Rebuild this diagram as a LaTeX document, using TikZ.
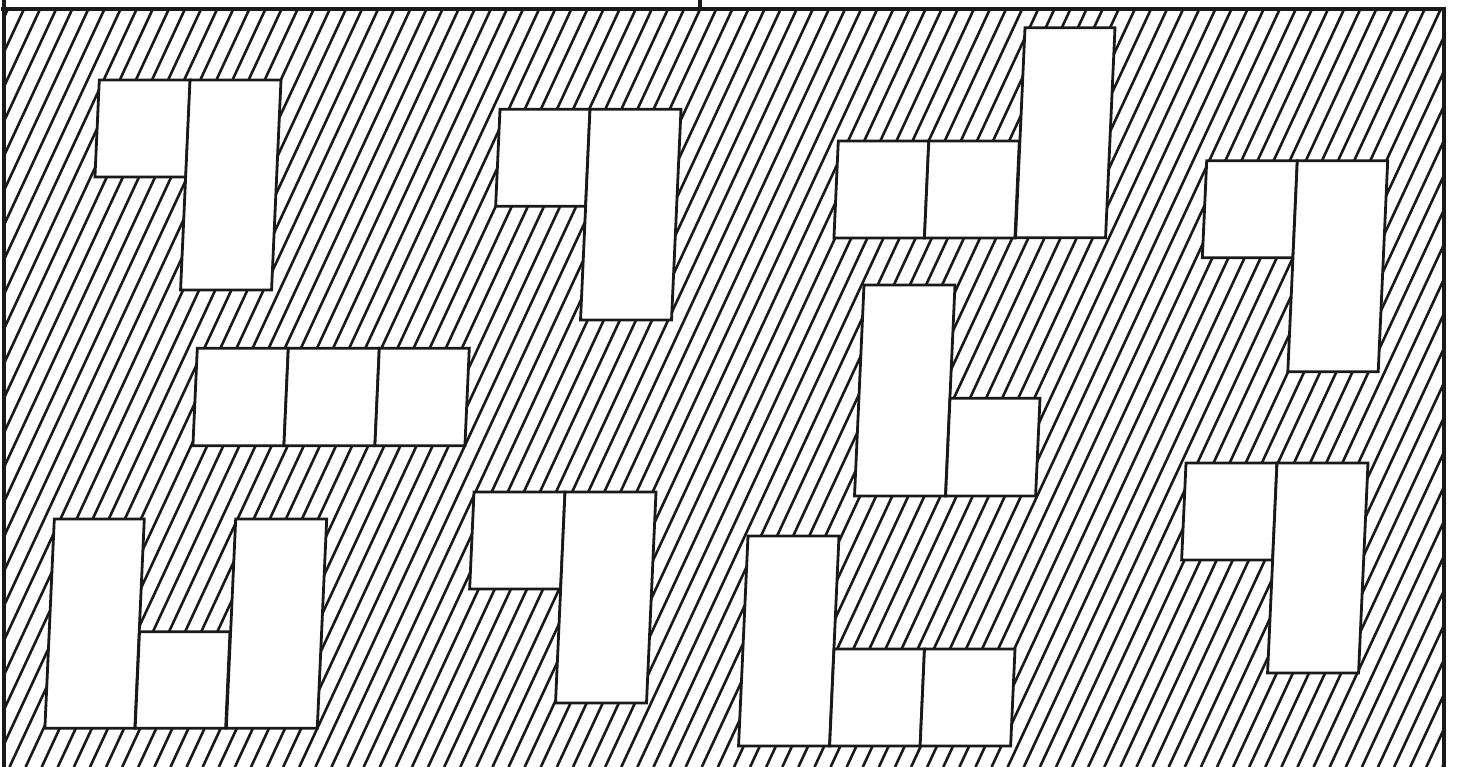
\documentclass[tikz,border=0pt]{standalone}
\begin{document}
\begin{tikzpicture}[x=1pt,y=-1pt,
  hatchline/.style={line width=2.6pt,black!90},
  framestyle/.style={line width=4.8pt,black!90},
  cellstyle/.style={fill=white,draw=black!90,line width=2.8pt,line join=miter}]
\useasboundingbox (0,0) rectangle (1457,767);
% hatching
\begin{scope}
  \clip (4,9) rectangle (1444,767);
  \foreach \k in {-2,...,112}
    \draw[hatchline] (24+16.1*\k,9) -- ++(-352.6,758);
\end{scope}
% cells
\newcommand{\cellbox}[4]{\draw[cellstyle] (#1,#2) -- (#1+#3,#2) -- (#1+#3-0.045*#4,#2+#4) -- (#1-0.045*#4,#2+#4) -- cycle;}
% block A
\cellbox{99.3}{80}{91}{97}
\cellbox{190}{80}{91}{210}
% block B
\cellbox{500}{109.3}{90}{97}
\cellbox{590}{109.3}{91}{210.7}
% block C
\cellbox{838.3}{141}{90.5}{97}
\cellbox{928.8}{141}{90.5}{97}
\cellbox{1025}{27.7}{90}{210}
% block D
\cellbox{1206.7}{160.7}{90.6}{97}
\cellbox{1297.3}{160.7}{90.4}{211}
% block E
\cellbox{197.3}{348.3}{91}{97.4}
\cellbox{288.3}{348.3}{91}{97.4}
\cellbox{379.3}{348.3}{90}{97.4}
% block F
\cellbox{864}{285}{91}{211}
\cellbox{950}{398.3}{90}{97.7}
% block G
\cellbox{54.3}{519}{90}{209.3}
\cellbox{139.5}{631.7}{90.5}{96.6}
\cellbox{235.7}{519}{91}{209.3}
% block H
\cellbox{474}{492}{91}{97}
\cellbox{565}{492}{91}{211}
% block I
\cellbox{748}{536}{91}{210}
\cellbox{834}{649}{90.5}{97}
\cellbox{924.5}{649}{90.5}{97}
% block J
\cellbox{1186}{463}{91}{97}
\cellbox{1277}{463}{91}{210}
% frame
\draw[framestyle] (4,0) -- (4,767);
\draw[framestyle] (1,9) -- (1446,9);
\draw[framestyle] (1444,6.6) -- (1444,767);
\draw[framestyle] (700,0) -- (700,9);
\end{tikzpicture}
\end{document}
